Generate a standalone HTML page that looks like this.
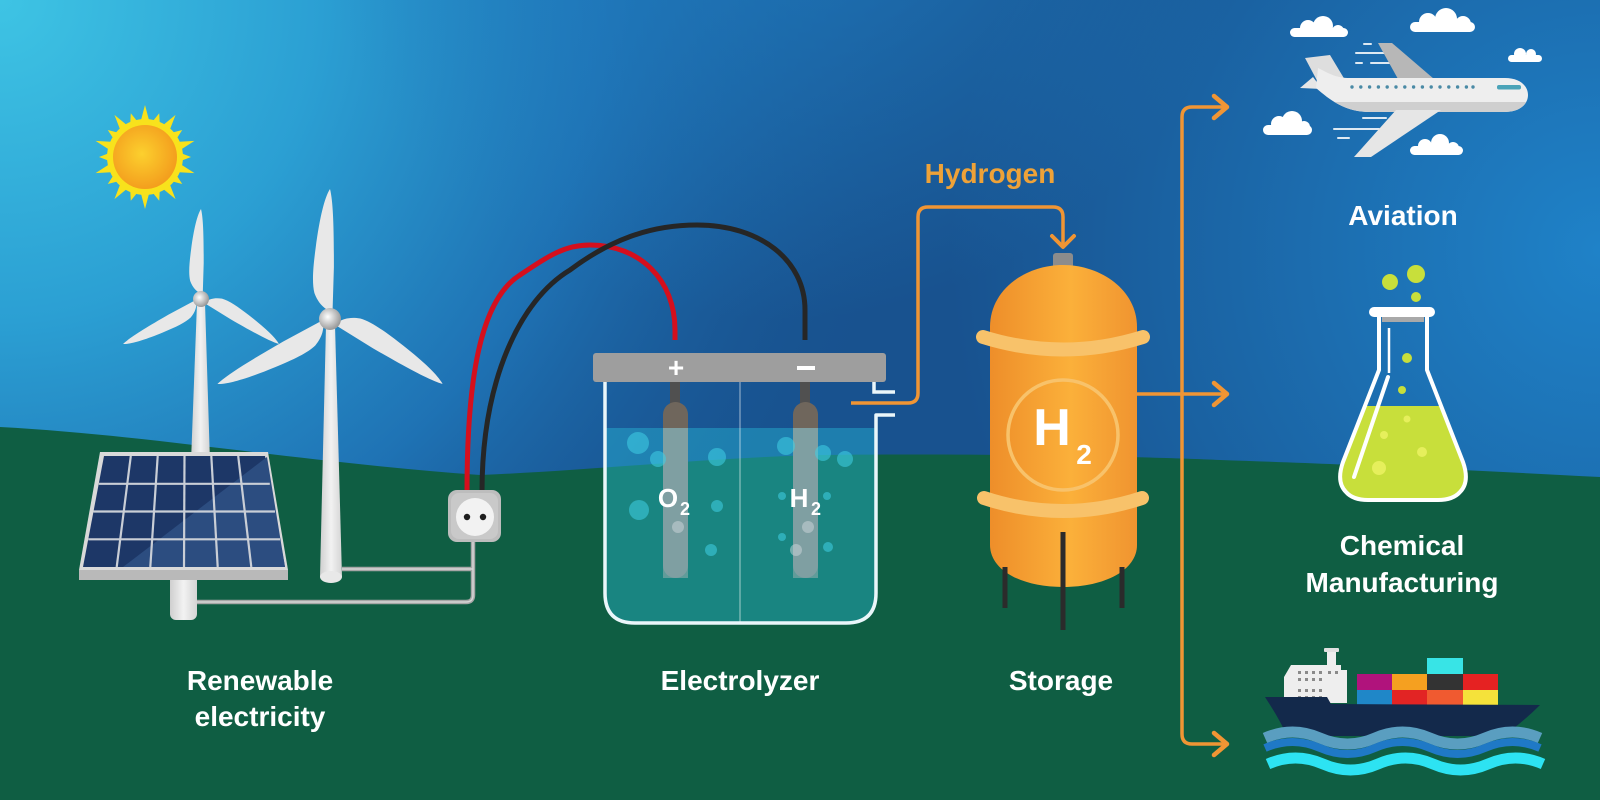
<!DOCTYPE html>
<html><head><meta charset="utf-8"><style>
html,body{margin:0;padding:0;background:#18528f;}
svg{display:block;}
text{font-family:"Liberation Sans",Arial,sans-serif;font-weight:bold;}
</style></head><body>
<svg width="1600" height="800" viewBox="0 0 1600 800" xmlns="http://www.w3.org/2000/svg">
<defs>
<radialGradient id="sk1" cx="0" cy="0" r="1150" gradientUnits="userSpaceOnUse">
<stop offset="0" stop-color="#3ec4e4"/><stop offset="0.28" stop-color="#2b9fd3"/><stop offset="0.52" stop-color="#1f74b6" stop-opacity="0.95"/><stop offset="0.82" stop-color="#18528f" stop-opacity="0"/>
</radialGradient>
<radialGradient id="sk2" cx="1600" cy="250" r="650" gradientUnits="userSpaceOnUse">
<stop offset="0" stop-color="#1f82c8"/><stop offset="1" stop-color="#1f82c8" stop-opacity="0"/>
</radialGradient>
<radialGradient id="sk3" cx="780" cy="-160" r="480" gradientUnits="userSpaceOnUse">
<stop offset="0" stop-color="#2080c4" stop-opacity="0.8"/><stop offset="1" stop-color="#2080c4" stop-opacity="0"/>
</radialGradient>
<radialGradient id="sun" cx="0.45" cy="0.45" r="0.6">
<stop offset="0" stop-color="#fcd02e"/><stop offset="1" stop-color="#f39a1c"/>
</radialGradient>
<radialGradient id="hub" cx="0.4" cy="0.4" r="0.6">
<stop offset="0" stop-color="#ffffff"/><stop offset="1" stop-color="#9a9a9a"/>
</radialGradient>
<linearGradient id="tower" x1="0" x2="1" y1="0" y2="0">
<stop offset="0" stop-color="#cfcfcf"/><stop offset="0.5" stop-color="#f2f2f2"/><stop offset="1" stop-color="#d4d4d4"/>
</linearGradient>
<linearGradient id="tank" x1="0" x2="1" y1="0" y2="0">
<stop offset="0" stop-color="#ee8e2a"/><stop offset="0.55" stop-color="#fbb03a"/><stop offset="1" stop-color="#f09430"/>
</linearGradient>
<path id="blade" d="M2,-7 L3,-40 C3,-70 2.5,-90 0,-100 C-4,-94 -8,-78 -11,-55 C-13,-40 -14,-28 -12,-20 C-9,-12 -5,-9 -2,-7 Z" fill="#e8e8e8"/>
<polygon id="ray" points="-5,-33 0,-52 5,-33" fill="#f8e21c"/>
<polygon id="ray2" points="-5,-33 0,-46 5,-33" fill="#f8e21c"/>
<clipPath id="flaskclip"><path d="M1379,317 L1379,370 L1343,462 Q1336,482 1346,492 Q1353,500 1368,500 L1438,500 Q1453,500 1460,492 Q1470,482 1463,462 L1427,370 L1427,317 Z"/></clipPath>
<clipPath id="beakclip"><path d="M605,382 L605,593 Q605,623 635,623 L846,623 Q876,623 876,593 L876,382 Z"/></clipPath>
<clipPath id="fusclip"><rect x="1290" y="102" width="260" height="20"/></clipPath>
</defs>

<!-- sky -->
<rect width="1600" height="800" fill="#18528f"/>
<rect width="1600" height="800" fill="url(#sk1)"/>
<rect width="1600" height="800" fill="url(#sk2)"/>
<rect width="1600" height="400" fill="url(#sk3)"/>
<!-- ground -->
<path d="M0,427 C150,435 300,462 480,475 C600,470 700,458 820,455 C1000,453 1150,457 1220,460 C1400,466 1500,472 1600,477 L1600,800 L0,800 Z" fill="#0f5e43"/>

<!-- sun -->
<g transform="translate(145,157)">
<circle r="38" fill="#f8e21c"/>
<use href="#ray"/><use href="#ray2" transform="rotate(18)"/><use href="#ray" transform="rotate(36)"/><use href="#ray2" transform="rotate(54)"/><use href="#ray" transform="rotate(72)"/><use href="#ray2" transform="rotate(90)"/><use href="#ray" transform="rotate(108)"/><use href="#ray2" transform="rotate(126)"/><use href="#ray" transform="rotate(144)"/><use href="#ray2" transform="rotate(162)"/><use href="#ray" transform="rotate(180)"/><use href="#ray2" transform="rotate(198)"/><use href="#ray" transform="rotate(216)"/><use href="#ray2" transform="rotate(234)"/><use href="#ray" transform="rotate(252)"/><use href="#ray2" transform="rotate(270)"/><use href="#ray" transform="rotate(288)"/><use href="#ray2" transform="rotate(306)"/><use href="#ray" transform="rotate(324)"/><use href="#ray2" transform="rotate(342)"/>
<circle r="32" fill="url(#sun)"/>
</g>

<!-- turbine 1 -->
<polygon points="197,303 205,303 210,462 191,462" fill="url(#tower)"/>
<g transform="translate(201,299) scale(0.9)">
<use href="#blade"/><use href="#blade" transform="rotate(120)"/><use href="#blade" transform="rotate(240)"/>
</g>
<circle cx="201" cy="299" r="8" fill="url(#hub)"/>

<!-- turbine 2 -->
<polygon points="326,325 335,325 342,577 320,577" fill="url(#tower)"/>
<ellipse cx="331" cy="577" rx="11" ry="6" fill="#e8e8e8"/>
<g transform="translate(330,319) scale(1.3)">
<use href="#blade"/><use href="#blade" transform="rotate(120)"/><use href="#blade" transform="rotate(240)"/>
</g>
<circle cx="330" cy="319" r="11" fill="url(#hub)"/>

<!-- gray cables -->
<path d="M342,569 L473,569 M197,602 L466,602 Q473,602 473,595 L473,540" fill="none" stroke="#a6a6a6" stroke-width="4.5"/>
<path d="M342,569 L473,569 M197,602 L466,602 Q473,602 473,595 L473,540" fill="none" stroke="#d6d6d6" stroke-width="1.5"/>

<!-- solar panel -->
<rect x="170" y="572" width="27" height="48" rx="6" fill="url(#tower)"/>
<polygon points="100,452 268,452 288,570 79,570" fill="#d9d9d9"/>
<polygon points="79,570 288,570 288,580 79,580" fill="#b9b9b9"/>
<polygon points="104,456 265,456 285,567 83,567" fill="#1d3767"/>
<polygon points="123,567 267,457 285,567" fill="#2c4d80"/>
<g stroke="#c9ced6" stroke-width="2.2" fill="none">
<line x1="98.8" y1="483.8" x2="269.8" y2="483.8"/>
<line x1="93.5" y1="511.5" x2="275" y2="511.5"/>
<line x1="88.3" y1="539.3" x2="280" y2="539.3"/>
<line x1="130.8" y1="456" x2="116.7" y2="567"/>
<line x1="157.7" y1="456" x2="150.3" y2="567"/>
<line x1="184.5" y1="456" x2="184" y2="567"/>
<line x1="211.3" y1="456" x2="217.7" y2="567"/>
<line x1="238.2" y1="456" x2="251.3" y2="567"/>
</g>

<!-- cables red/black -->
<path d="M467,492 C467,380 480,300 520,275 C550,255 565,245 590,245 C640,245 675,280 675,330 L675,340" fill="none" stroke="#d50f1d" stroke-width="5"/>
<path d="M482,492 C482,380 520,300 570,270 C610,240 650,225 697,225 C760,225 805,260 805,310 L805,340" fill="none" stroke="#262626" stroke-width="5"/>

<!-- socket -->
<rect x="448" y="490" width="53" height="52" rx="9" fill="#bdbdbd"/>
<rect x="451" y="493" width="47" height="46" rx="8" fill="#c9c9c9"/>
<circle cx="475" cy="517" r="19" fill="#f2f2f2"/>
<circle cx="467" cy="517" r="3.2" fill="#1e1e1e"/>
<circle cx="483" cy="517" r="3.2" fill="#1e1e1e"/>

<!-- electrolyzer -->
<rect x="670" y="380" width="10" height="26" fill="#505050"/>
<rect x="800" y="380" width="10" height="26" fill="#505050"/>
<rect x="663" y="402" width="25" height="176" rx="12.5" fill="#6f665c"/>
<rect x="793" y="402" width="25" height="176" rx="12.5" fill="#6f665c"/>
<g clip-path="url(#beakclip)">
<rect x="600" y="428" width="280" height="200" fill="#28bcd8" fill-opacity="0.42"/>
</g>
<rect x="663" y="428" width="25" height="150" fill="#b8b8b8" fill-opacity="0.45"/>
<rect x="793" y="428" width="25" height="150" fill="#b8b8b8" fill-opacity="0.45"/>
<g fill="#3fd0e6" fill-opacity="0.55">
<circle cx="638" cy="443" r="11"/><circle cx="658" cy="459" r="8"/><circle cx="717" cy="457" r="9"/>
<circle cx="639" cy="510" r="10"/><circle cx="717" cy="506" r="6"/><circle cx="711" cy="550" r="6"/>
<circle cx="786" cy="446" r="9"/><circle cx="823" cy="453" r="8"/><circle cx="845" cy="459" r="8"/>
<circle cx="782" cy="496" r="4"/><circle cx="827" cy="496" r="4"/><circle cx="782" cy="537" r="4"/><circle cx="828" cy="547" r="5"/>
</g>
<g fill="#d0d8dc" fill-opacity="0.5">
<circle cx="678" cy="527" r="6"/><circle cx="808" cy="527" r="6"/><circle cx="796" cy="550" r="6"/>
</g>
<line x1="740" y1="382" x2="740" y2="623" stroke="#ffffff" stroke-opacity="0.4" stroke-width="1.5"/>
<text x="668" y="507" font-size="26" fill="#ffffff" text-anchor="middle">O</text>
<text x="685" y="515" font-size="18" fill="#ffffff" text-anchor="middle">2</text>
<text x="799" y="507" font-size="26" fill="#ffffff" text-anchor="middle">H</text>
<text x="816" y="515" font-size="18" fill="#ffffff" text-anchor="middle">2</text>
<path d="M605,382 L605,593 Q605,623 635,623 L846,623 Q876,623 876,593 L876,415 L895,415" fill="none" stroke="#eaf6fa" stroke-width="3.5" stroke-linejoin="round"/>
<path d="M874,382 L874,392 L895,392" fill="none" stroke="#eaf6fa" stroke-width="3.5"/>
<rect x="593" y="353" width="293" height="29" rx="3" fill="#9e9e9e"/>
<text x="676" y="377" font-size="28" fill="#ffffff" text-anchor="middle">+</text>
<rect x="797" y="366" width="18" height="4" fill="#ffffff"/>

<!-- hydrogen pipe -->
<path d="M851,403 L908,403 Q918,403 918,393 L918,217 Q918,207 928,207 L1053,207 Q1063,207 1063,217 L1063,247" fill="none" stroke="#f09534" stroke-width="3.5"/>
<path d="M1052,236 L1063,247 L1074,236" fill="none" stroke="#f09534" stroke-width="4" stroke-linecap="round" stroke-linejoin="round"/>
<text x="990" y="183" font-size="28" fill="#eea238" text-anchor="middle">Hydrogen</text>

<!-- tank -->
<rect x="1053" y="253" width="20" height="15" rx="3" fill="#8c8c8c"/>
<path d="M990,327 C990,290 1025,265 1063,265 C1101,265 1137,290 1137,327 L1137,545 C1137,570 1105,587 1063,587 C1021,587 990,570 990,545 Z" fill="url(#tank)"/>
<path d="M983,337 Q1063,362 1143,337" fill="none" stroke="#f8c26a" stroke-width="14" stroke-linecap="round"/>
<path d="M984,498 Q1063,524 1142,498" fill="none" stroke="#f8c26a" stroke-width="14" stroke-linecap="round"/>
<circle cx="1063" cy="435" r="55" fill="none" stroke="#f8c26a" stroke-width="3.5"/>
<text x="1052" y="445" font-size="52" fill="#ffffff" text-anchor="middle">H</text>
<text x="1084" y="464" font-size="28" fill="#ffffff" text-anchor="middle">2</text>
<g stroke="#2b2b2b" stroke-width="5">
<line x1="1063" y1="532" x2="1063" y2="630"/>
<line x1="1005" y1="567" x2="1005" y2="608"/>
<line x1="1122" y1="567" x2="1122" y2="608"/>
</g>

<!-- distribution arrows -->
<path d="M1137,394 L1226,394" fill="none" stroke="#f09534" stroke-width="3.5"/>
<path d="M1226,107 L1192,107 Q1182,107 1182,117 L1182,734 Q1182,744 1192,744 L1226,744" fill="none" stroke="#f09534" stroke-width="3.5"/>
<g fill="none" stroke="#f09534" stroke-width="4.5" stroke-linecap="round" stroke-linejoin="round">
<path d="M1214,96 L1227,107 L1214,118"/>
<path d="M1214,383 L1227,394 L1214,405"/>
<path d="M1214,733 L1227,744 L1214,755"/>
</g>

<!-- clouds -->
<g fill="#ffffff">
<rect x="1290" y="28" width="58" height="9" rx="4.5"/><circle cx="1308" cy="28" r="8"/><circle cx="1323" cy="26" r="10"/><circle cx="1338" cy="31" r="6"/>
<rect x="1410" y="22" width="65" height="10" rx="5"/><circle cx="1428" cy="22" r="9"/><circle cx="1446" cy="19" r="11"/><circle cx="1463" cy="24" r="8"/>
<rect x="1508" y="55" width="34" height="7" rx="3.5"/><circle cx="1520" cy="54" r="6"/><circle cx="1531" cy="54" r="5"/>
<rect x="1263" y="125" width="49" height="10" rx="5"/><circle cx="1279" cy="124" r="8"/><circle cx="1292" cy="121" r="10"/><circle cx="1304" cy="127" r="6"/>
<rect x="1410" y="146" width="53" height="9" rx="4.5"/><circle cx="1425" cy="146" r="7"/><circle cx="1440" cy="143" r="9"/><circle cx="1453" cy="148" r="6"/>
</g>

<!-- plane -->
<g stroke="#ffffff" stroke-width="2" stroke-linecap="round" opacity="0.85">
<line x1="1364" y1="44" x2="1371" y2="44"/><line x1="1356" y1="53" x2="1390" y2="53"/>
<line x1="1356" y1="63" x2="1362" y2="63"/><line x1="1371" y1="63" x2="1396" y2="63"/>
<line x1="1363" y1="118" x2="1386" y2="118"/><line x1="1334" y1="129" x2="1379" y2="129"/><line x1="1338" y1="138" x2="1349" y2="138"/>
</g>
<polygon points="1378,43 1392,43 1434,79 1398,79" fill="#b7b7b7"/>
<polygon points="1305,58 1330,55 1345,80 1322,90" fill="#dedede"/>
<polygon points="1300,88 1313,77 1322,89" fill="#e6e6e6"/>
<path d="M1318,68 C1330,74 1336,78 1350,78 L1505,78 C1520,78 1528,86 1528,95 C1528,104 1520,112 1505,112 L1370,112 C1345,112 1330,100 1316,88 Z" fill="#eeeeee"/>
<path d="M1318,68 C1330,74 1336,78 1350,78 L1505,78 C1520,78 1528,86 1528,95 C1528,104 1520,112 1505,112 L1370,112 C1345,112 1330,100 1316,88 Z" fill="#cfcfcf" clip-path="url(#fusclip)"/>
<polygon points="1396,110 1441,110 1371,157 1354,157" fill="#e6e6e6"/>
<g fill="#4a8aa5">
<circle cx="1352" cy="87" r="1.7"/><circle cx="1360.8" cy="87" r="1.7"/><circle cx="1369.6" cy="87" r="1.7"/><circle cx="1378.4" cy="87" r="1.7"/><circle cx="1387.2" cy="87" r="1.7"/><circle cx="1396" cy="87" r="1.7"/><circle cx="1404.8" cy="87" r="1.7"/><circle cx="1413.6" cy="87" r="1.7"/><circle cx="1422.4" cy="87" r="1.7"/><circle cx="1431.2" cy="87" r="1.7"/><circle cx="1440" cy="87" r="1.7"/><circle cx="1448.8" cy="87" r="1.7"/><circle cx="1457.6" cy="87" r="1.7"/><circle cx="1466.4" cy="87" r="1.7"/><circle cx="1473" cy="87" r="1.7"/>
</g>
<rect x="1497" y="85" width="24" height="4.5" rx="2" fill="#4aa3b8"/>

<!-- flask -->
<circle cx="1390" cy="282" r="8" fill="#c8df3b"/>
<circle cx="1416" cy="274" r="9" fill="#c8df3b"/>
<circle cx="1416" cy="297" r="5" fill="#c8df3b"/>
<g clip-path="url(#flaskclip)">
<rect x="1330" y="406" width="150" height="100" fill="#c8df3b"/>
</g>
<circle cx="1407" cy="358" r="5" fill="#c8df3b"/>
<circle cx="1402" cy="390" r="4" fill="#c8df3b"/>
<g fill="#e6ef5c">
<circle cx="1407" cy="419" r="3.5"/><circle cx="1384" cy="435" r="4"/><circle cx="1422" cy="452" r="5"/><circle cx="1379" cy="468" r="7"/>
</g>
<path d="M1379,317 L1379,370 L1343,462 Q1336,482 1346,492 Q1353,500 1368,500 L1438,500 Q1453,500 1460,492 Q1470,482 1463,462 L1427,370 L1427,317" fill="none" stroke="#ffffff" stroke-width="4" stroke-linejoin="round"/>
<rect x="1382" y="316" width="42" height="6" fill="#a9a9a9"/>
<rect x="1369" y="307" width="66" height="10" rx="5" fill="#ffffff"/>
<line x1="1389" y1="328" x2="1389" y2="373" stroke="#ffffff" stroke-width="2.5"/>
<line x1="1388" y1="377" x2="1354" y2="477" stroke="#ffffff" stroke-width="4" stroke-linecap="round"/>

<!-- ship -->
<rect x="1327" y="651" width="9" height="16" fill="#eeeeee"/>
<rect x="1324" y="648" width="15" height="4" rx="1" fill="#e0e0e0"/>
<path d="M1284,703 L1284,677 L1291,665 L1341,665 L1341,670 L1347,670 L1347,703 Z" fill="#eeeeee"/>
<g fill="#8a8a8a">
<rect x="1298" y="671" width="3" height="3"/><rect x="1305" y="671" width="3" height="3"/><rect x="1312" y="671" width="3" height="3"/><rect x="1319" y="671" width="3" height="3"/><rect x="1328" y="671" width="3" height="3"/><rect x="1335" y="671" width="3" height="3"/>
<rect x="1298" y="678" width="3" height="3"/><rect x="1305" y="678" width="3" height="3"/><rect x="1312" y="678" width="3" height="3"/><rect x="1319" y="678" width="3" height="3"/>
<rect x="1298" y="689" width="3" height="3"/><rect x="1305" y="689" width="3" height="3"/><rect x="1312" y="689" width="3" height="3"/><rect x="1319" y="689" width="3" height="3"/>
<rect x="1298" y="696" width="3" height="3"/><rect x="1305" y="696" width="3" height="3"/><rect x="1312" y="696" width="3" height="3"/><rect x="1319" y="696" width="3" height="3"/>
</g>
<rect x="1427" y="658" width="36" height="16" fill="#38e4e6"/>
<rect x="1357" y="674" width="35" height="16" fill="#b0137c"/>
<rect x="1392" y="674" width="35" height="16" fill="#f5a020"/>
<rect x="1427" y="674" width="36" height="16" fill="#333333"/>
<rect x="1463" y="674" width="35" height="16" fill="#e52222"/>
<rect x="1357" y="690" width="35" height="15" fill="#1f87c8"/>
<rect x="1392" y="690" width="35" height="15" fill="#e22424"/>
<rect x="1427" y="690" width="36" height="15" fill="#f05a30"/>
<rect x="1463" y="690" width="35" height="15" fill="#f5e23a"/>
<path d="M1265,697 L1327,697 L1331,704 L1540,705 C1530,715 1515,728 1503,736 L1287,736 C1280,720 1272,708 1265,697 Z" fill="#13294b"/>
<path d="M1265,738 q27.5,-12 55,0 t55,0 t55,0 t55,0 t55,0" fill="none" stroke="#5a9ec0" stroke-width="11"/>
<path d="M1265,748 q27.5,-12 55,0 t55,0 t55,0 t55,0 t55,0" fill="none" stroke="#1f79c6" stroke-width="8"/>
<path d="M1268,764 q27.5,-12 55,0 t55,0 t55,0 t55,0 t55,0" fill="none" stroke="#2de3f2" stroke-width="11"/>

<!-- labels -->
<g fill="#ffffff" font-size="28" text-anchor="middle">
<text x="260" y="690">Renewable</text>
<text x="260" y="726">electricity</text>
<text x="740" y="690">Electrolyzer</text>
<text x="1061" y="690">Storage</text>
<text x="1403" y="225">Aviation</text>
<text x="1402" y="555">Chemical</text>
<text x="1402" y="592">Manufacturing</text>
</g>
</svg>
</body></html>
